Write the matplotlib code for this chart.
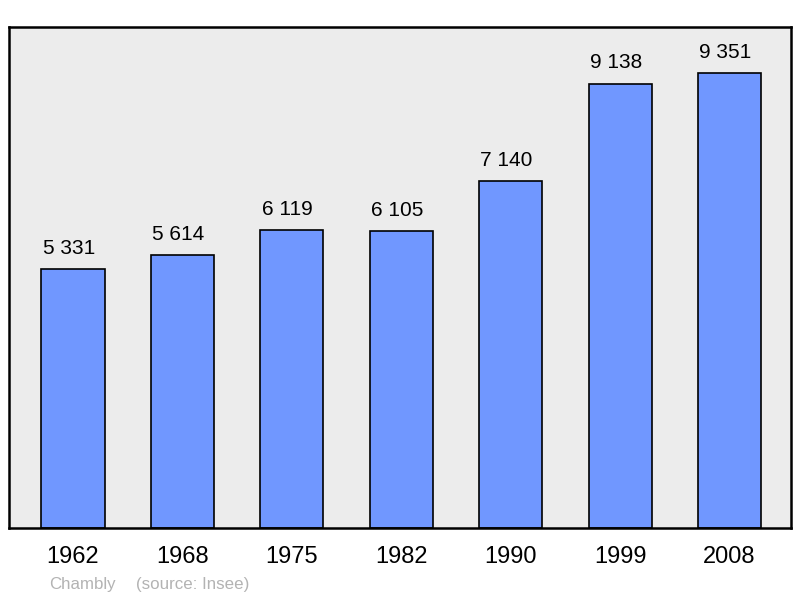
"""Population bar chart for Chambly."""
import matplotlib.pyplot as plt

years = ["1962", "1968", "1975", "1982", "1990", "1999", "2008"]
population = [5331, 5614, 6119, 6105, 7140, 9138, 9351]
value_labels = ["5 331", "5 614", "6 119", "6 105", "7 140", "9 138", "9 351"]
town = "Chambly"
source = "(source: Insee)"

plt.rcParams['font.family'] = ['Liberation Sans', 'DejaVu Sans']

fig = plt.figure(figsize=(8, 5.98), dpi=100)
ax = fig.add_axes([9 / 800, 1 - 528 / 598, 782 / 800, 501 / 598])
ax.set_facecolor("#ececec")

xpos = list(range(len(years)))
ax.bar(xpos, population, width=0.576, color="#7097ff", edgecolor="black", linewidth=1.2, zorder=2)

# value labels above the bars, nudged a little left like the original
for x, val, lab in zip(xpos, population, value_labels):
	ax.annotate(lab, (x, val), xytext=(-3, 8), textcoords="offset points",
		ha="center", va="bottom", fontsize=15, color="black")

ax.set_xlim(-0.585, 6.562)
ax.set_ylim(0, 10300)
ax.set_yticks([])
ax.set_xticks(xpos)
ax.set_xticklabels(years, fontsize=17)
ax.tick_params(axis="x", length=0, pad=13)
for spine in ax.spines.values():
	spine.set_linewidth(1.8)
	spine.set_color("black")

fig.text(49 / 800, 1 - 584 / 598, town, fontsize=12.2, color="#b3b3b3", va="center", ha="left")
fig.text(136 / 800, 1 - 584 / 598, source, fontsize=12.2, color="#b3b3b3", va="center", ha="left")

fig.savefig("out.png", dpi=100)
